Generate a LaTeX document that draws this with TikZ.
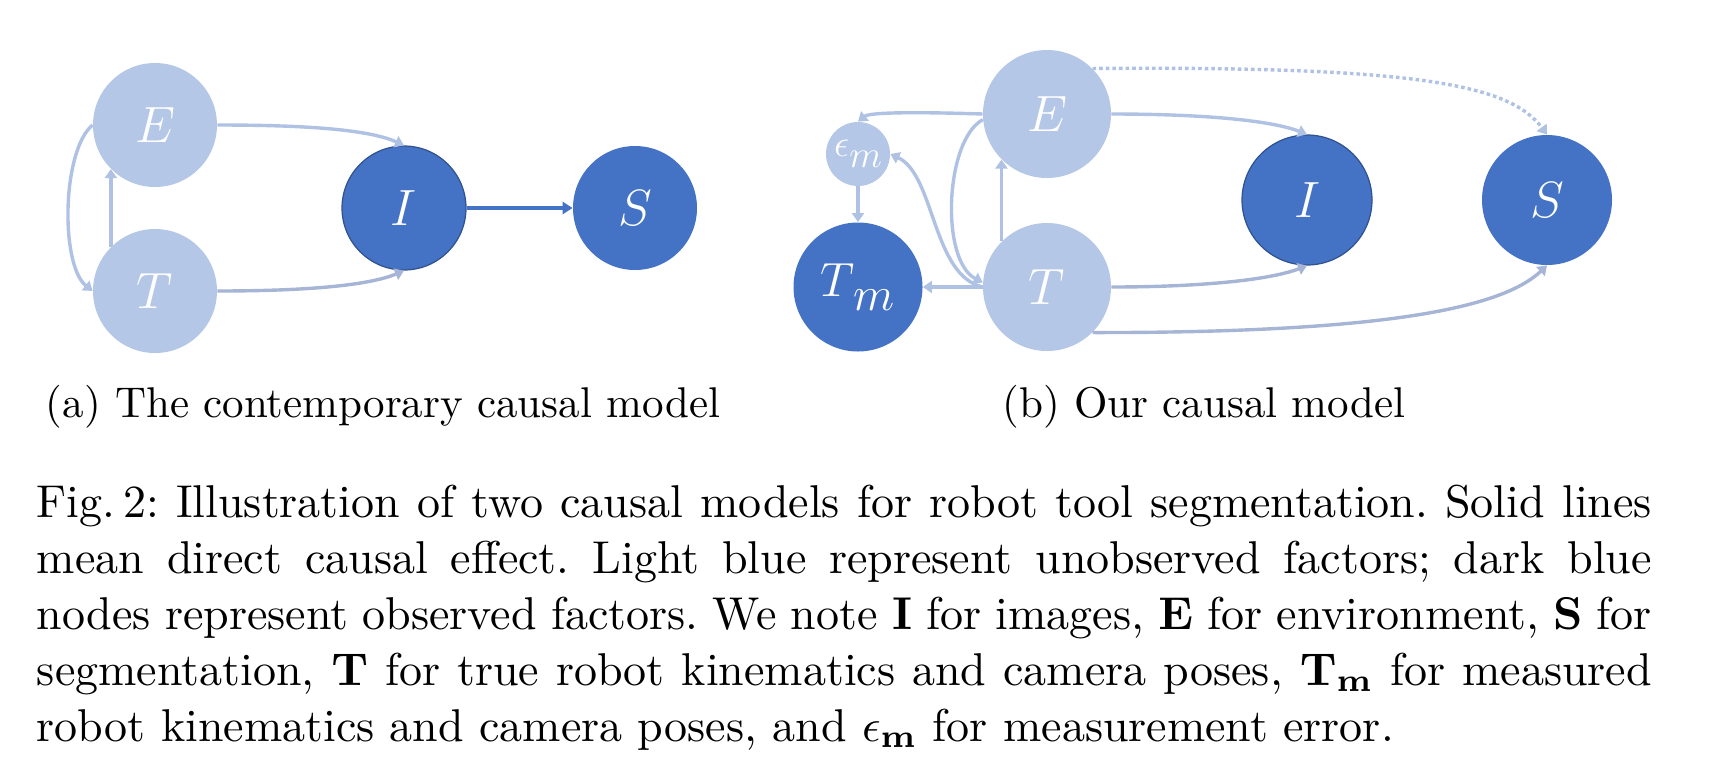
\RequirePackage{fix-cm}
\documentclass[tikz,border=0pt]{standalone}
\usepackage{amsmath}
\usetikzlibrary{arrows.meta}
\definecolor{lightnode}{RGB}{180,199,231}
\definecolor{darknode}{RGB}{68,114,196}
\definecolor{darkedge}{RGB}{47,82,143}
\definecolor{arrowA}{RGB}{176,194,228}
\definecolor{arrowB}{RGB}{166,181,214}
\newcommand{\lowsub}[1]{\raisebox{-0.3em}{$#1$}}
\newcommand{\capline}[1]{\makebox[351.1pt][s]{#1}}
\frenchspacing
\begin{document}
\begin{tikzpicture}[x=0.5pt,y=-0.5pt,
  lnode/.style={circle, fill=lightnode, inner sep=0pt, text=white},
  dnode/.style={circle, fill=darknode, inner sep=0pt, text=white},
  lab/.style={font=\fontsize{25.5}{30}\selectfont},
  arr/.style={draw=arrowA, line width=1.7pt, -{Triangle[length=4.5pt,width=6pt]}},
  arrg/.style={draw=arrowB, line width=1.7pt, -{Triangle[length=4.5pt,width=6pt]}},
  arrd/.style={draw=darknode, line width=1.7pt, -{Triangle[length=5pt,width=6pt]}},
  dotarr/.style={draw=arrowA, line width=1.7pt, dash pattern=on 1.8pt off 1.5pt, -{Triangle[length=4.5pt,width=6pt]}},
  captxt/.style={font=\fontsize{10}{12}\selectfont, scale=2.3, inner sep=0pt, anchor=base west},
  subcap/.style={font=\fontsize{10}{12}\selectfont, scale=2.15, inner sep=0pt, anchor=base}
]
\useasboundingbox (0,0) rectangle (1712,772);
% ---------- panel (a)
\node[lnode, minimum size=62pt, lab] (aE) at (155,125) {$E$};
\node[lnode, minimum size=62pt, lab] (aT) at (155,291) {$T$};
\node[dnode, draw=darkedge, line width=0.6pt, minimum size=62pt, lab] (aI) at (404,208) {$I$};
\node[dnode, minimum size=62pt, lab] (aS) at (635,208) {$S$};
\draw[arr] (aE.east) .. controls (310,125) and (370,130) .. (aI.north);
\draw[arrg] (aT.east) .. controls (310,291) and (370,285) .. (aI.south);
\draw[arrd] (aI.east) -- (aS.west);
\draw[arr] (aT.135) -- (aE.225);
\draw[arr] (aE.west) .. controls (62,150) and (60,265) .. (aT.west);
% ---------- panel (b)
\node[lnode, minimum size=64pt, lab] (bE) at (1047,114) {$E$};
\node[lnode, minimum size=64pt, lab] (bT) at (1047,287) {$T$};
\node[lnode, minimum size=32pt, font=\fontsize{19}{22}\selectfont] (bEm) at (858,154) {$\epsilon$\lowsub{m}};
\node[dnode, minimum size=64.5pt, font=\fontsize{24}{28}\selectfont] (bTm) at (858,287) {$T$\kern-0.5pt\lowsub{m}};
\node[dnode, draw=darkedge, line width=0.6pt, minimum size=65pt, lab] (bI) at (1307,200) {$I$};
\node[dnode, minimum size=65pt, lab] (bS) at (1547,200) {$S$};
\draw[arr] (bE.west) .. controls (920,112) and (870,112) .. (bEm.north);
\draw[arr] (bE.185) .. controls (945,140) and (940,260) .. (bT.176);
\draw[arr] (bT.west) .. controls (932,275) and (935,175) .. (bEm.east);
\draw[arr] (bT.135) -- (bE.225);
\draw[arr] (bEm.south) -- (bTm.north);
\draw[arr] (bT.west) -- (bTm.east);
\draw[arr] (bE.east) .. controls (1200,114) and (1270,120) .. (bI.north);
\draw[arrg] (bT.east) .. controls (1200,287) and (1270,280) .. (bI.south);
\draw[arrg] (bT.-45) .. controls (1400,333) and (1505,305) .. (bS.south);
\draw[dotarr] (bE.45) .. controls (1420,66) and (1510,85) .. (bS.north);
% ---------- sub-captions
\node[subcap] (capa) at (383,417) {(a) The contemporary causal model};
\node[subcap] (capb) at (1204,417) {(b) Our causal model};
% ---------- caption
\node[captxt] (l1) at (36,517) {\capline{Fig.\,2: Illustration of two causal models for robot tool segmentation. Solid lines}};
\node[captxt] (l2) at (36,573) {\capline{mean direct causal effect. Light blue represent unobserved factors; dark blue}};
\node[captxt] (l3) at (36,629) {\capline{nodes represent observed factors. We note $\mathbf{I}$ for images, $\mathbf{E}$ for environment, $\mathbf{S}$ for}};
\node[captxt] (l4) at (36,685) {\capline{segmentation, $\mathbf{T}$ for true robot kinematics and camera poses, $\mathbf{T}_{\mathbf{m}}$ for measured}};
\node[captxt] (l5) at (36,741) {robot kinematics and camera poses, and $\epsilon_{\mathbf{m}}$ for measurement error.};
\end{tikzpicture}
\end{document}
